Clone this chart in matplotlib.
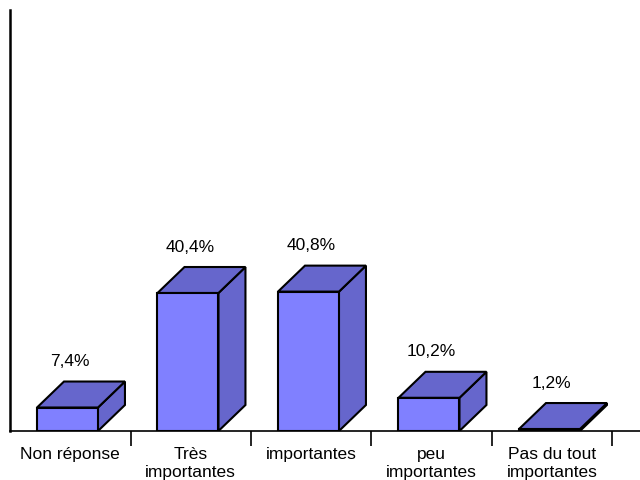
import numpy as np
import matplotlib
matplotlib.use('Agg')
import matplotlib.pyplot as plt
from matplotlib.patches import Polygon

categories = ['Non réponse', 'Très\nimportantes', 'importantes', 'peu\nimportantes', 'Pas du tout\nimportantes']
values = [7.4, 40.4, 40.8, 10.2, 1.2]
labels = ['7,4%', '40,4%', '40,8%', '10,2%', '1,2%']

front_col = '#8080FF'
shade_col = '#6666CC'

plt.rcParams['font.family'] = ['Liberation Sans', 'DejaVu Sans']

fig = plt.figure(figsize=(6.4, 4.81), dpi=100)
ax = fig.add_axes([10/640, 49/481, 630/640, 421/481])
scale = 3.47          # px per percent
y0 = 2.2 / scale      # floor of the 3d chart sits a bit above zero
ax.set_xlim(0, 630/120.5)
ax.set_ylim(y0, y0 + 421/scale)

off = 0.224   # front face start inside the slot
w = 0.506     # front face width
dx = 0.224    # depth, x
dy = 26/scale # depth, y

for i, v in enumerate(values):
    x0 = i + off
    x1 = x0 + w
    front = Polygon([(x0, y0), (x1, y0), (x1, v), (x0, v)], closed=True,
                    facecolor=front_col, edgecolor='black', lw=1.5, zorder=3)
    top = Polygon([(x0, v), (x1, v), (x1+dx, v+dy), (x0+dx, v+dy)], closed=True,
                  facecolor=shade_col, edgecolor='black', lw=1.5, zorder=3)
    side = Polygon([(x1, y0), (x1+dx, y0+dy), (x1+dx, v+dy), (x1, v)], closed=True,
                   facecolor=shade_col, edgecolor='black', lw=1.5, zorder=3)
    for p in (side, top, front):
        ax.add_patch(p)
    ax.text(x0 + w/2 + 0.02, v + dy + 21/scale, labels[i], ha='center', va='center',
            fontsize=12.5)

for s in ('top', 'right'):
    ax.spines[s].set_visible(False)
ax.spines['left'].set_linewidth(1.8)
ax.spines['bottom'].set_linewidth(1.2)

ax.set_yticks([])
ax.set_xticks([1, 2, 3, 4, 5])
ax.set_xticklabels([])
ax.tick_params(axis='x', which='major', length=11, width=1.2, direction='out')
ax.set_xticks(np.arange(len(categories)) + 0.5, minor=True)
ax.set_xticklabels(categories, minor=True, fontsize=12.5, linespacing=1.3)
ax.tick_params(axis='x', which='minor', length=0, pad=10.5)

fig.savefig('out.png', dpi=100)
